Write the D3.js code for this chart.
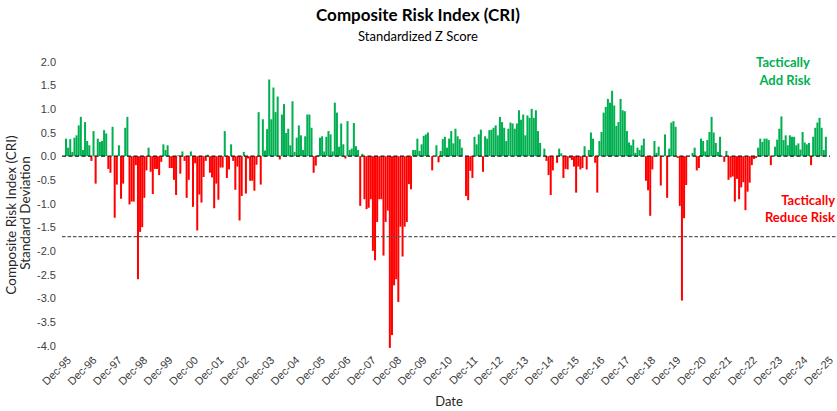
<!DOCTYPE html>
<html>
<head>
<meta charset="utf-8">
<script src="https://cdn.jsdelivr.net/npm/d3@7"></script>
<style>
    body { margin: 0; background: #fff; }
    svg { display: block; font-family: Lato, "Open Sans", sans-serif; }
</style>
</head>
<body>
<svg id="chart"></svg>
<script>
// monthly CRI z-scores, starting Dec-95, 60 months per array
const cri1996to2000 = [
    0.37, 0.18, 0.36, 0.09, 0.39, 0.44, 0.65, 0.83, 0.13, 0.72,
    0.32, 0.23, -0.1, 0.53, -0.58, 0.37, 0.3, 0.32, 0.55, 0.48,
    -0.27, -0.35, 0.62, -1.3, -0.6, 0.23, -0.9, -0.58, 0.6, 0.83,
    -1.02, -0.96, -0.96, -0.19, -2.6, -1.6, -1.5, -0.88, -0.3, 0.18,
    -0.33, -0.8, -0.27, -0.27, -0.4, -0.12, 0.25, 0.13, 0.23, -0.25,
    -0.25, -0.5, -0.82, 0.02, -0.37, 0.1, -0.1, -0.88, -0.5, 0.1
]
const cri2001to2005 = [
    -1.07, -0.15, -1.57, -0.81, -0.98, -0.44, -0.1, 0.03, -0.35, -0.45,
    -1.1, -0.58, -0.92, -0.24, -0.24, 0.53, -0.46, -0.28, 0.25, -0.1,
    -0.71, -0.22, -1.36, -0.84, 0.09, -0.79, -0.05, -0.52, -0.52, -0.73,
    -0.18, 0.93, -0.6, 0.78, 0.12, 0.57, 1.62, 0.78, 1.45, 0.93,
    1.26, -0.07, 0.88, 1.1, 0.49, 0.58, 0.23, 1.16, 0.09, 0.39,
    0.65, 0.44, 0.13, 0.42, 0.88, 0.88, 0.6, -0.35, -0.2, 0.02
]
const cri2006to2010 = [
    0.39, 0.42, 0.1, 0.41, 0.53, 0.46, 0.1, 1.13, 0.92, 0.2,
    0.69, 0.25, -0.05, 0.74, 0.13, 0.16, 0.7, 0.21, 0.13, -1.05,
    0.05, -0.91, -1.12, -1.09, -0.91, -2.0, -2.2, -1.39, -0.91, -0.91,
    -2.1, -1.39, -1.15, -4.05, -3.78, -2.73, -2.6, -3.08, -1.49, -2.12,
    -1.49, -1.39, -0.59, -0.7, 0.13, 0.13, 0.37, 0.11, 0.25, 0.43,
    0.46, 0.5, 0, -0.3, 0, 0.23, -0.13, 0.11, 0.36, 0.41
]
const cri2011to2015 = [
    0.18, 0.37, 0.53, 0.27, 0.58, 0.42, 0.36, 0.18, 0, -0.84,
    -0.93, -0.31, -0.46, 0.41, 0.25, 0.46, 0.56, -0.33, 0.42, 0.37,
    0.55, 0.56, 0.6, 0.65, 0.44, 0.83, 0.72, 0.6, 0.32, 0.58,
    0.71, 0.69, 0.58, 0.69, 0.97, 0.77, 0.88, 0.44, 0.86, 0.81,
    1.0, 0.81, 0.97, 0.53, 0.28, 0, 0.16, -0.1, -0.4, -0.82,
    -0.3, 0, -0.14, 0.16, 0.06, -0.46, -0.27, -0.28, -0.04, -0.08
]
const cri2016to2020 = [
    -0.22, -0.77, -0.22, -0.28, -0.25, 0.21, -0.28, 0.13, 0.5, 0.37,
    -0.14, -0.77, 0.32, 0.51, 0.92, 1.04, 1.21, 1.13, 1.38, 1.07,
    0.64, 0.72, 1.21, 0.97, 0.95, 0.53, 0.29, 0.23, 0.35, 0.07,
    0.18, 0.13, 0.23, 0.37, -0.52, -0.72, -1.26, -0.28, 0.32, 0.07,
    0.2, -0.62, 0, 0.46, -0.88, 0.16, 0.71, 0.74, 0.62, -0.04,
    -1.05, -3.05, -1.31, -0.61, 0, 0, 0.07, 0.18, -0.3, -0.25
]
const cri2021to2025 = [
    0.37, 0.32, 0.1, 0.34, 0.51, 0.83, 0.5, 0.28, 0.09, 0.41,
    0, -0.12, 0.11, -0.5, -0.45, -0.43, -0.96, -0.48, -0.91, -0.66,
    -0.55, -1.14, -0.75, -0.56, -0.19, -0.06, -0.04, 0.18, 0.37, 0.3,
    0.37, 0.37, 0.34, -0.19, 0, 0.2, 0.35, 0.58, 0.84, 0.34,
    0.44, 0.23, 0.44, 0.41, 0.41, 0.23, 0.27, 0.14, 0.51, 0.29,
    0.25, 0.28, -0.19, 0.41, 0.6, 0.71, 0.81, 0.6, 0.13, 0.41
]

const yTicks = [2, 1.5, 1, 0.5, 0, -0.5, -1, -1.5, -2, -2.5, -3, -3.5, -4]
const threshold = -1.7
const title = "Composite Risk Index (CRI)"
const subtitle = "Standardized Z Score"

const fmtMonth = d3.timeFormat("%b-%y")
const months = d3.timeMonth.range(new Date(1995, 11, 1), new Date(2026, 0, 1)).map(fmtMonth)
const xLabels = months.filter(m => m.startsWith("Dec"))

const values = [].concat(cri1996to2000, cri2001to2005, cri2006to2010,
    cri2011to2015, cri2016to2020, cri2021to2025)
const data = values.map((v, i) => ({ month: months[i], value: v }))

const
    width = 837,
    height = 411,
    green = "#00b050",
    red = "#ff0000"

const svg = d3.select("#chart")
    .attr("width", width)
    .attr("height", height)

const x = d3.scaleBand()
    .domain(months)
    .range([65, 829])
    .paddingInner(0.05)

const y = d3.scaleLinear()
    .domain([-4, 2])
    .range([345.5, 61.5])

// titles
svg.append("text")
    .attr("x", 418).attr("y", 21)
    .attr("text-anchor", "middle")
    .attr("font-size", 17).attr("font-weight", "bold")
    .text(title)

svg.append("text")
    .attr("x", 418).attr("y", 41)
    .attr("text-anchor", "middle")
    .attr("font-size", 13)
    .text(subtitle)

// y axis
svg.append("g")
    .attr("transform", "translate(57,0)")
    .call(d3.axisLeft(y).tickValues(yTicks).tickSize(0).tickPadding(1).tickFormat(d => d.toFixed(1)))
    .call(g => g.select(".domain").remove())
    .call(g => g.selectAll("text").attr("font-size", 11).attr("fill", "#404040").attr("font-family", null))

svg.append("text")
    .attr("transform", "translate(16,215) rotate(-90)")
    .attr("text-anchor", "middle")
    .attr("font-size", 13.5).attr("fill", "#262626")
    .text("Composite Risk Index (CRI)")

svg.append("text")
    .attr("transform", "translate(30,213) rotate(-90)")
    .attr("text-anchor", "middle")
    .attr("font-size", 13.5).attr("fill", "#262626")
    .text("Standard Deviation")

// x axis
svg.append("g")
    .attr("transform", "translate(0,357)")
    .call(d3.axisBottom(x).tickValues(xLabels).tickSize(2).tickPadding(1))
    .call(g => g.select(".domain").remove())
    .call(g => g.selectAll("line").attr("stroke", "#595959"))
    .call(g => g.selectAll("text")
        .attr("font-size", 11).attr("fill", "#404040").attr("font-family", null)
        .attr("text-anchor", "end")
        .attr("dy", "0.35em")
        .attr("transform", "translate(1,-1) rotate(-45)"))

svg.append("text")
    .attr("x", 449).attr("y", 406)
    .attr("text-anchor", "middle")
    .attr("font-size", 13).attr("fill", "#262626")
    .text("Date")

// bars
svg.append("g")
    .selectAll("rect")
    .data(data)
    .enter().append("rect")
    .attr("x", d => x(d.month))
    .attr("width", x.bandwidth())
    .attr("y", d => y(Math.max(0, d.value)))
    .attr("height", d => Math.abs(y(d.value) - y(0)))
    .attr("fill", d => d.value >= 0 ? green : red)

// reference lines
svg.append("line")
    .attr("x1", 62).attr("x2", 830)
    .attr("y1", y(0)).attr("y2", y(0))
    .attr("stroke", "#1a1a1a").attr("stroke-width", 1.2)
    .attr("stroke-dasharray", "4,2.5")

svg.append("line")
    .attr("x1", 62).attr("x2", 837)
    .attr("y1", y(threshold)).attr("y2", y(threshold))
    .attr("stroke", "#595959").attr("stroke-width", 1.2)
    .attr("stroke-dasharray", "3.5,2")

// annotations
const addRisk = svg.append("text")
    .attr("text-anchor", "middle")
    .attr("font-size", 13).attr("font-weight", "bold")
    .attr("fill", green)
addRisk.append("tspan").attr("x", 783).attr("y", 67).text("Tactically")
addRisk.append("tspan").attr("x", 785).attr("y", 85).text("Add Risk")

const reduceRisk = svg.append("text")
    .attr("text-anchor", "end")
    .attr("font-size", 13).attr("font-weight", "bold")
    .attr("fill", red)
reduceRisk.append("tspan").attr("x", 835).attr("y", 205).text("Tactically")
reduceRisk.append("tspan").attr("x", 835).attr("y", 222).text("Reduce Risk")
</script>
</body>
</html>
